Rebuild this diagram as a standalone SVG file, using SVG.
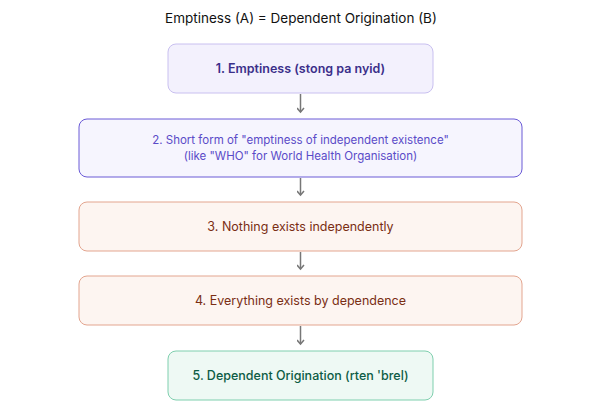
<svg xmlns="http://www.w3.org/2000/svg" width="602" height="409" viewBox="0 0 602 409">
<style>
text{font-family:Inter,"Liberation Sans",sans-serif;text-anchor:middle}
.c{stroke:#777;stroke-width:1.5;fill:none}
</style>
<defs><marker id="a" markerWidth="8" markerHeight="8" refX="6" refY="4" orient="auto" markerUnits="userSpaceOnUse" viewBox="0 0 8 8"><path d="M2,0.5 L6,4 L2,7.5" fill="none" stroke="#777" stroke-width="1.5"/></marker></defs>
<rect width="602" height="409" fill="#fff"/>
<text x="301" y="23" font-size="13.5" fill="#111">Emptiness (A) = Dependent Origination (B)</text>
<g id="n1"><rect x="168" y="44" width="265" height="49" rx="8" fill="#f3f1fd" stroke="#c9c0f0"/><text x="300.5" y="73" font-size="12.5" font-weight="600" fill="#3b2f8a">1. Emptiness (stong pa nyid)</text></g>
<g id="n2"><rect x="79" y="119" width="443" height="58" rx="8" fill="#f6f5fe" stroke="#6a5ad6"/><text x="300.5" y="144" font-size="11.5" fill="#5a4bc8">2. Short form of "emptiness of independent existence"</text><text x="300.5" y="160" font-size="11.5" fill="#5a4bc8">(like "WHO" for World Health Organisation)</text></g>
<g id="n3"><rect x="79" y="202" width="443" height="49" rx="8" fill="#fdf5f1" stroke="#e3a58f"/><text x="300.5" y="231" font-size="12.5" fill="#7a2e14">3. Nothing exists independently</text></g>
<g id="n4"><rect x="79" y="276" width="443" height="49" rx="8" fill="#fdf5f1" stroke="#e3a58f"/><text x="300.5" y="305" font-size="12.5" fill="#7a2e14">4. Everything exists by dependence</text></g>
<g id="n5"><rect x="168" y="351" width="265" height="49" rx="8" fill="#eef9f4" stroke="#7fcfae"/><text x="300.5" y="380" font-size="12.5" font-weight="500" fill="#0d5c45">5. Dependent Origination (rten 'brel)</text></g>
<g id="connectors">
<line class="c" x1="300.5" y1="94" x2="300.5" y2="112" marker-end="url(#a)"/>
<line class="c" x1="300.5" y1="178" x2="300.5" y2="195" marker-end="url(#a)"/>
<line class="c" x1="300.5" y1="252" x2="300.5" y2="269" marker-end="url(#a)"/>
<line class="c" x1="300.5" y1="326" x2="300.5" y2="344" marker-end="url(#a)"/>
</g>
</svg>
